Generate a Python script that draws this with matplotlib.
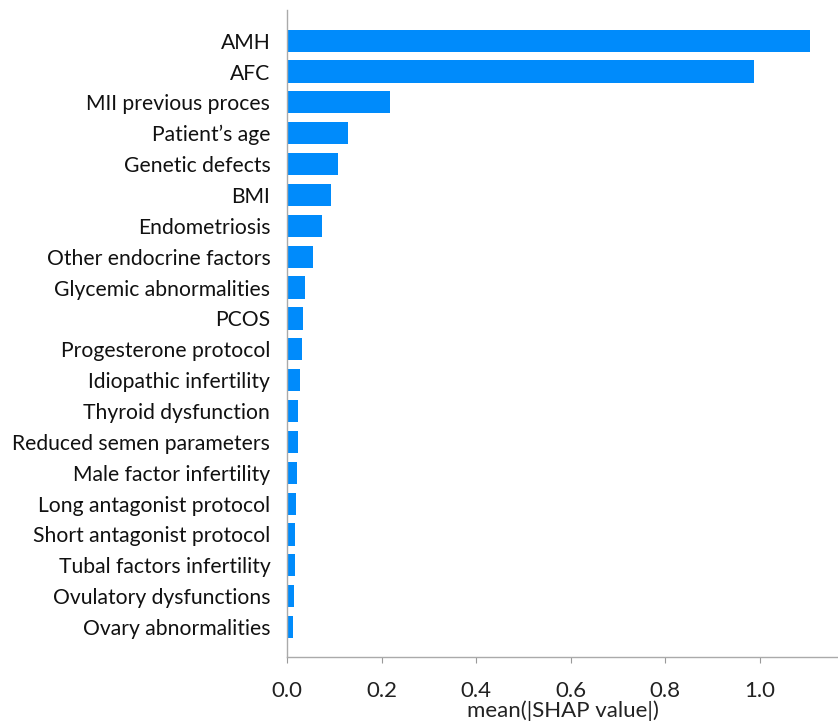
import matplotlib
matplotlib.use("Agg")
import matplotlib.pyplot as plt
import numpy as np

# Features ordered from most to least important (top to bottom).
features = [
    "AMH", "AFC", "MII previous proces", "Patient\u2019s age",
    "Genetic defects", "BMI", "Endometriosis", "Other endocrine factors",
    "Glycemic abnormalities", "PCOS", "Progesterone protocol",
    "Idiopathic infertility", "Thyroid dysfunction",
    "Reduced semen parameters", "Male factor infertility",
    "Long antagonist protocol", "Short antagonist protocol",
    "Tubal factors infertility", "Ovulatory dysfunctions",
    "Ovary abnormalities",
]
mean_abs_shap = [
    1.105, 0.988, 0.218, 0.128, 0.108, 0.093, 0.075, 0.054, 0.038, 0.0345,
    0.0324, 0.0275, 0.024, 0.0226, 0.021, 0.019, 0.0175, 0.016, 0.0154, 0.0133,
]
xticks = [0.0, 0.2, 0.4, 0.6, 0.8, 1.0]

plt.rcParams["font.family"] = ["Lato", "DejaVu Sans"]

fig = plt.figure(figsize=(8.38, 7.24), dpi=100)
ax = fig.add_axes([0.3425, 0.0925, 0.6575, 0.894])

# shap-style summary bar plot: first feature at the top
ypos = np.arange(len(features))[::-1]
ax.barh(ypos, mean_abs_shap, height=0.72, color="#008bfb", align="center")

ax.set_yticks(ypos)
ax.set_yticklabels(features, fontsize=15.2, color="#111111")
ax.tick_params(axis="y", length=0, pad=12)
ax.set_xticks(xticks)
ax.set_xticklabels([f"{t:.1f}" for t in xticks], fontsize=16, color="#222222")
ax.tick_params(axis="x", length=4, color="#999999", pad=13)

ax.set_xlim(0, 1.165)
ax.set_ylim(-0.97, len(features))
ax.set_xlabel("mean(|SHAP value|)", fontsize=16, color="#222222",
              labelpad=0)

for side in ("top", "right"):
    ax.spines[side].set_visible(False)
for side in ("left", "bottom"):
    ax.spines[side].set_color("#aaaaaa")
    ax.spines[side].set_linewidth(1.0)

fig.savefig("out.png", dpi=100)
